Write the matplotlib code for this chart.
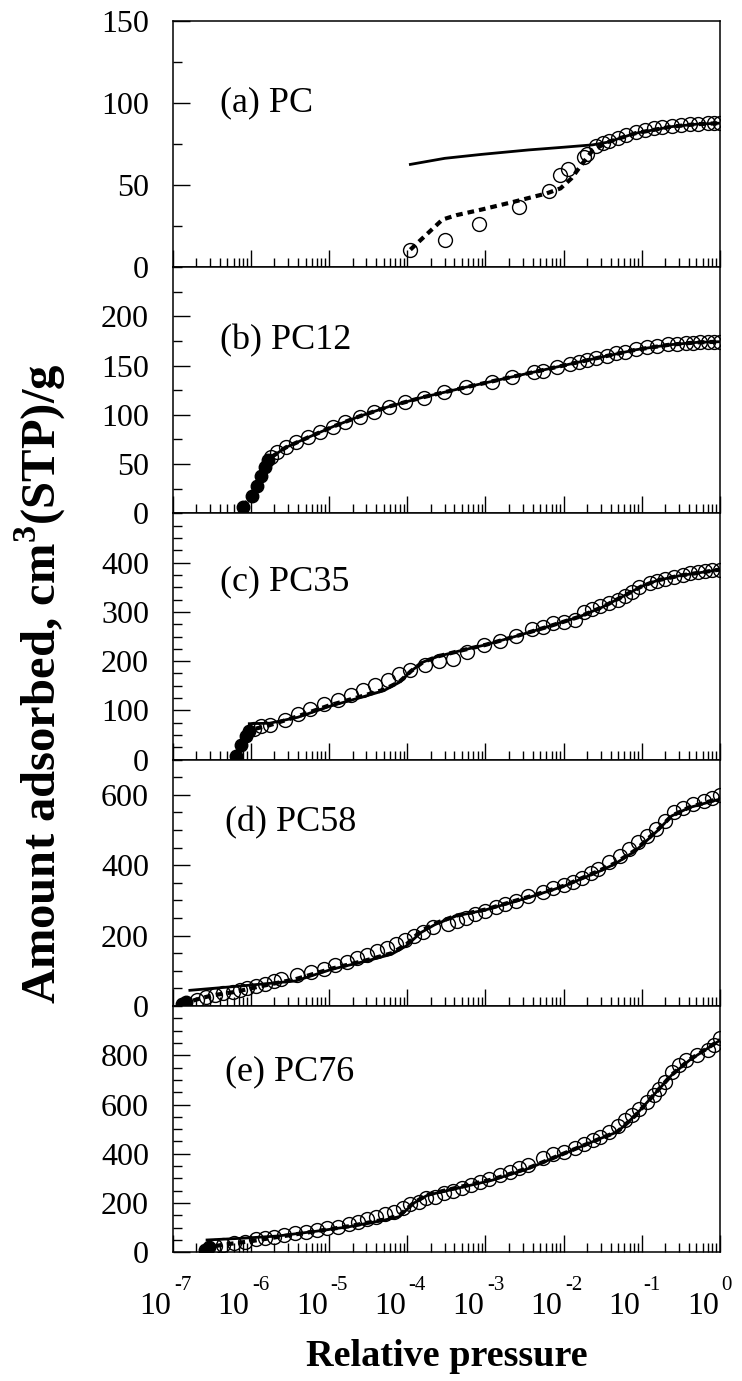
import numpy as np
import matplotlib
matplotlib.use("Agg")
from matplotlib import pyplot as plt
from matplotlib import transforms
from matplotlib.ticker import FixedLocator, NullFormatter

plt.rcParams["font.family"] = ["Liberation Serif", "DejaVu Serif"]
plt.rcParams["mathtext.fontset"] = "custom"
plt.rcParams["mathtext.rm"] = "Liberation Serif"
plt.rcParams["mathtext.bf"] = "Liberation Serif:bold"

# ---- data: x given as log10(relative pressure) ----
# (a) PC
a_open_lx = [-3.96, -3.52, -3.08, -2.57, -2.19, -2.05, -1.95, -1.74, -1.70, -1.58, -1.50,
             -1.42, -1.31, -1.20, -1.08, -0.96, -0.85, -0.74, -0.62, -0.50, -0.39, -0.28, -0.16, -0.08, 0.0]
a_open_y = [10.6, 16.3, 26.0, 36.5, 46.4, 56.0, 59.5, 67.0, 69.0, 73.7, 75.5,
            77.0, 78.8, 80.5, 82.5, 83.5, 84.5, 85.3, 86.0, 86.5, 87.0, 87.3, 87.6, 87.8, 88.0]
a_dash_lx = [-3.96, -3.55, -3.37, -3.05, -2.64, -2.22, -2.04, -1.90, -1.76, -1.63, -1.44, -1.08, -0.62, -0.3, 0.0]
a_dash_y = [10.6, 28.9, 31.6, 35.0, 39.7, 44.8, 47.9, 54.0, 63.0, 71.0, 76.0, 81.5, 85.5, 87.0, 87.6]
a_solid_lx = [-3.96, -3.52, -3.05, -2.45, -1.99, -1.63, -1.44, -1.08, -0.62, -0.3, 0.0]
a_solid_y = [62.5, 66.2, 68.6, 71.3, 73.0, 74.4, 76.0, 81.5, 85.5, 87.0, 87.6]

# (b) PC12
b_fill_lx = [-6.10, -5.99, -5.92, -5.875, -5.82, -5.78]
b_fill_y = [6.8, 17.6, 27.7, 37.9, 47.4, 54.0]
b_open_lx = [-5.74, -5.66, -5.55, -5.42, -5.27, -5.11, -4.95, -4.79, -4.61, -4.43, -4.23, -4.03,
             -3.79, -3.53, -3.25, -2.92, -2.66, -2.38, -2.27, -2.09, -1.92, -1.81, -1.70, -1.58,
             -1.44, -1.33, -1.21, -1.08, -0.94, -0.80, -0.66, -0.55, -0.44, -0.34, -0.25, -0.16, -0.08, 0.0]
b_open_y = [56.8, 62.6, 67.7, 72.7, 77.8, 82.9, 88.0, 93.0, 98.1, 103.2, 108.3, 113.3,
            117.4, 122.8, 128.6, 133.0, 138.7, 143.8, 144.5, 148.8, 151.2, 154.0, 155.6, 158.0,
            160.0, 162.4, 164.0, 166.8, 168.5, 169.8, 171.5, 172.2, 172.8, 173.3, 173.7, 174.0, 174.1, 174.2]
b_dash_lx = [-6.10, -5.99, -5.92, -5.82, -5.74, -5.55, -5.27, -4.95, -4.61, -4.23, -3.79, -3.25,
             -2.66, -2.09, -1.58, -1.08, -0.66, -0.30, 0.0]
b_dash_y = [6.8, 17.6, 27.7, 47.4, 57.0, 67.0, 77.0, 88.0, 98.5, 108.5, 118.0, 128.0,
            138.5, 148.5, 157.5, 166.0, 171.0, 173.5, 174.2]
b_solid_lx = [-5.78, -5.74, -5.55, -5.27, -4.95, -4.61, -4.23, -3.79, -3.25, -2.66, -2.09, -1.58,
              -1.08, -0.66, -0.30, 0.0]
b_solid_y = [52.0, 57.0, 67.0, 77.0, 88.0, 98.5, 108.5, 118.0, 128.0, 138.5, 148.5, 157.5,
             166.0, 171.0, 173.5, 174.2]

# (c) PC35
c_fill_lx = [-6.19, -6.13, -6.06, -6.02]
c_fill_y = [6.8, 29.0, 48.8, 58.0]
c_open_lx = [-5.96, -5.87, -5.76, -5.56, -5.40, -5.24, -5.07, -4.89, -4.72, -4.57, -4.41, -4.25,
             -4.10, -3.96, -3.77, -3.60, -3.41, -3.24, -3.02, -2.82, -2.61, -2.40, -2.26, -2.13,
             -1.99, -1.86, -1.74, -1.64, -1.53, -1.42, -1.31, -1.21, -1.12, -1.03, -0.89, -0.80,
             -0.71, -0.59, -0.48, -0.38, -0.28, -0.19, -0.10, 0.0]
c_open_y = [63, 67.8, 69.8, 80, 92, 103, 112.5, 122, 131, 141, 151, 161,
            173, 183, 193, 200, 204, 219, 232.5, 241, 251, 265, 270, 276.6,
            280, 283, 300, 305, 312, 317, 325, 333, 341, 350, 358, 363,
            367, 371.5, 375, 378, 380, 382, 384, 386]
c_dash_lx = [-6.19, -6.13, -6.06, -5.96, -5.76, -5.40, -5.00, -4.60, -4.30, -4.10, -3.95, -3.80,
             -3.60, -3.30, -3.00, -2.60, -2.20, -1.80, -1.50, -1.20, -1.00, -0.80, -0.50, -0.20, 0.0]
c_dash_y = [6.8, 29, 49, 62, 70, 88, 110, 128, 142, 158, 180, 198,
            210, 222, 233, 251, 270, 290, 310, 335, 352, 364, 374, 381, 386]
c_solid_lx = [-6.02, -5.76, -5.40, -5.00, -4.60, -4.30, -4.10, -3.95, -3.80, -3.60, -3.30, -3.00,
              -2.60, -2.20, -1.80, -1.50, -1.20, -1.00, -0.80, -0.50, -0.20, 0.0]
c_solid_y = [73, 74, 86, 108, 126, 140, 157, 180, 198, 210, 222, 233,
             251, 270, 290, 310, 335, 352, 364, 374, 381, 386]

# (d) PC58
d_fill_lx = [-6.88, -6.83]
d_fill_y = [5, 11]
d_open_lx = [-6.69, -6.58, -6.46, -6.35, -6.23, -6.14, -6.05, -5.94, -5.82, -5.71, -5.62, -5.41,
             -5.23, -5.07, -4.92, -4.77, -4.64, -4.52, -4.39, -4.26, -4.15, -4.03, -3.92, -3.80,
             -3.67, -3.48, -3.37, -3.25, -3.14, -3.00, -2.86, -2.75, -2.61, -2.45, -2.27, -2.13,
             -1.99, -1.88, -1.76, -1.65, -1.56, -1.42, -1.28, -1.17, -1.05, -0.94, -0.82, -0.71,
             -0.59, -0.48, -0.34, -0.20, -0.10, 0.0]
d_open_y = [17, 26.5, 32, 36, 40, 44.5, 50, 57, 63.5, 70, 76, 87,
            97, 106, 116, 125, 137, 144, 156, 166, 177, 187, 199, 210,
            225, 232, 242, 251, 261, 270, 280, 289, 299, 313, 324, 336,
            343, 353, 365, 377, 390, 408, 427, 445, 466, 483, 502, 526,
            550, 564, 573, 583, 590, 599]
d_dash_lx = [-6.88, -6.70, -6.50, -6.20, -5.90, -5.43, -4.97, -4.52, -4.20, -4.01, -3.83, -3.64,
             -3.37, -3.00, -2.45, -1.99, -1.53, -1.35, -1.08, -0.80, -0.62, -0.39, 0.0]
d_dash_y = [5, 18, 30, 40, 55, 76, 106, 130, 150, 175, 212, 235,
            257, 274, 310, 342, 386, 405, 443, 500, 540, 565, 590]
d_solid_lx = [-6.78, -6.12, -5.43, -4.97, -4.52, -4.20, -4.01, -3.83, -3.64, -3.37, -3.00, -2.45,
              -1.99, -1.53, -1.35, -1.08, -0.80, -0.62, -0.39, 0.0]
d_solid_y = [44.5, 57, 71, 104, 128, 147, 171, 208, 232, 256, 273, 308,
             341, 384, 403, 441, 498, 540, 564, 588]

# (e) PC76
e_fill_lx = [-6.59, -6.53]
e_fill_y = [9.5, 20]
e_open_lx = [-6.46, -6.35, -6.21, -6.07, -5.94, -5.82, -5.71, -5.57, -5.43, -5.29, -5.16, -5.02,
             -4.88, -4.74, -4.63, -4.51, -4.40, -4.29, -4.17, -4.06, -3.96, -3.85, -3.76, -3.64,
             -3.53, -3.41, -3.30, -3.18, -3.07, -2.96, -2.82, -2.68, -2.57, -2.45, -2.27, -2.13,
             -1.99, -1.86, -1.74, -1.63, -1.53, -1.42, -1.31, -1.21, -1.12, -1.03, -0.94, -0.85,
             -0.78, -0.71, -0.62, -0.53, -0.43, -0.30, -0.16, -0.08, 0.0]
e_open_y = [25.7, 30, 36.5, 43, 53, 57, 63.5, 70, 77, 84, 90.5, 97,
            104, 113.5, 124, 135, 144.6, 154, 165, 178, 196, 205, 219, 226,
            239, 250, 259, 273, 286, 297, 313.5, 327, 340.5, 354, 381, 398.6,
            408, 421.6, 439, 455, 469, 486.5, 512, 536.5, 557, 580, 611, 638,
            661, 692, 732, 759.5, 780, 800, 820, 840, 872]
e_dash_lx = [-6.59, -6.53, -6.30, -6.00, -5.66, -5.20, -4.74, -4.29, -4.10, -3.92, -3.74, -3.37,
             -2.91, -2.45, -1.99, -1.53, -1.31, -1.08, -0.85, -0.62, -0.39, 0.0]
e_dash_y = [9.5, 22, 33, 45, 62, 84, 106, 133, 150, 200, 234, 262,
            296, 342, 402, 462, 490, 556, 638, 720, 782, 862]
e_solid_lx = [-6.56, -6.11, -5.66, -5.20, -4.74, -4.29, -4.10, -3.92, -3.74, -3.37, -2.91, -2.45,
              -1.99, -1.53, -1.31, -1.08, -0.85, -0.62, -0.39, 0.0]
e_solid_y = [50, 57, 66, 84, 104, 131, 145, 199, 232, 259, 293, 340,
             401, 462, 489, 557, 638, 719, 780, 861]

x_decades = list(range(-7, 1))

# name, ymax, last labelled tick, major step, minor step, data..., label x/y (axes fraction)
panels = [
    ("(a) PC", 150, 150, 50, 25, None, None, a_open_lx, a_open_y, a_dash_lx, a_dash_y, a_solid_lx, a_solid_y, 0.086, 0.665),
    ("(b) PC12", 250, 200, 50, 25, b_fill_lx, b_fill_y, b_open_lx, b_open_y, b_dash_lx, b_dash_y, b_solid_lx, b_solid_y, 0.086, 0.70),
    ("(c) PC35", 500, 400, 100, 25, c_fill_lx, c_fill_y, c_open_lx, c_open_y, c_dash_lx, c_dash_y, c_solid_lx, c_solid_y, 0.086, 0.72),
    ("(d) PC58", 700, 600, 200, 50, d_fill_lx, d_fill_y, d_open_lx, d_open_y, d_dash_lx, d_dash_y, d_solid_lx, d_solid_y, 0.096, 0.745),
    ("(e) PC76", 1000, 800, 200, 50, e_fill_lx, e_fill_y, e_open_lx, e_open_y, e_dash_lx, e_dash_y, e_solid_lx, e_solid_y, 0.096, 0.734),
]

fig = plt.figure(figsize=(7.42, 13.81), dpi=100)
left, right = 0.2327, 0.9704
bottom, top = 0.0932, 0.985
h = (top - bottom) / 5

major_x = [10.0 ** k for k in x_decades]
minor_x = [m * 10.0 ** k for k in x_decades[:-1] for m in range(2, 10)]

for i, (name, ymax, ylab, major, minor, flx, fy, olx, oy, dlx, dy, slx, sy, tx, ty) in enumerate(panels):
    ax = fig.add_axes([left, top - (i + 1) * h, right - left, h])
    ax.plot(10 ** np.array(olx), oy, "o", ms=10, mfc="none", mec="black", mew=1.0, zorder=2)
    if flx is not None:
        ax.plot(10 ** np.array(flx), fy, "o", ms=9, color="black", zorder=3)
    ax.plot(10 ** np.array(slx), sy, "-", color="black", lw=2.0, zorder=4)
    ax.plot(10 ** np.array(dlx), dy, color="black", lw=3.0, ls=(0, (1.6, 1.2)), zorder=4)

    ax.set_xscale("log")
    ax.set_xlim(1e-7, 1e0)
    ax.set_ylim(0, ymax)
    ax.yaxis.set_major_locator(FixedLocator(np.arange(0, ylab + 1, major)))
    ax.yaxis.set_minor_locator(FixedLocator(np.arange(0, ymax + 1, minor)))
    ax.xaxis.set_major_locator(FixedLocator(major_x))
    ax.xaxis.set_minor_locator(FixedLocator(minor_x))
    ax.xaxis.set_minor_formatter(NullFormatter())
    ax.set_xticklabels([])
    ax.tick_params(which="both", direction="in", top=False, right=False, width=1.0)
    ax.tick_params(which="major", length=12.5)
    ax.tick_params(which="minor", length=6.5)
    ax.tick_params(axis="y", labelsize=23, pad=17)
    for s in ax.spines.values():
        s.set_linewidth(1.1)
    ax.text(tx, ty, name, transform=ax.transAxes, fontsize=26, va="center", ha="left")

    if i == 4:
        # decade labels: "10" ends at the tick, exponent sits raised just right of it
        blend = transforms.blended_transform_factory(ax.transData, ax.transAxes)
        for k, xv in zip(x_decades, major_x):
            base_tr = transforms.offset_copy(blend, fig=fig, x=-1, y=-44.5, units="points")
            exp_tr = transforms.offset_copy(blend, fig=fig, x=1, y=-27, units="points")
            ax.text(xv, 0, "10", transform=base_tr, fontsize=23, ha="right", va="baseline")
            ax.text(xv, 0, str(k), transform=exp_tr, fontsize=15, ha="left", va="baseline")
        ax.set_xlabel("Relative pressure", fontsize=27.5, fontweight="bold", labelpad=59)

fig.text(0.054, 0.505, r"Amount adsorbed, cm$^{\mathbf{3}}$(STP)/g",
         rotation=90, fontsize=35, fontweight="bold", ha="center", va="center")

fig.savefig("out.png", dpi=100)
